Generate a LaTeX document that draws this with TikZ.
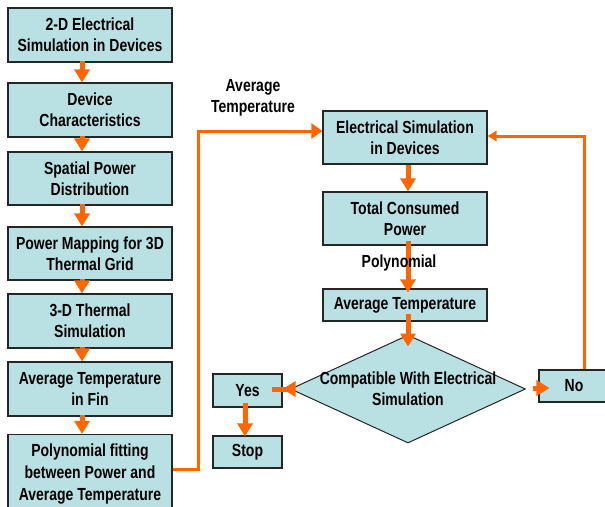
\documentclass[tikz,border=0pt]{standalone}
\usepackage{fontspec}
\newfontfamily\narrowfont{Liberation Sans}[FakeStretch=0.8]
\usetikzlibrary{arrows.meta,shapes.geometric}
\definecolor{boxfill}{RGB}{185,224,227}
\definecolor{flow}{RGB}{255,102,0}
\begin{document}
\begin{tikzpicture}[x=1pt,y=-1pt,
  every node/.style={font=\narrowfont\bfseries\fontsize{17.5}{21}\selectfont, align=center, text=black},
  proc/.style={draw=black!85, line width=1.2pt, fill=boxfill, inner sep=0pt, minimum width=164pt},
  smallbox/.style={draw=black!85, line width=1.2pt, fill=boxfill, inner sep=0pt, minimum width=69pt, minimum height=33pt},
  decision/.style={diamond, draw=black!85, line width=1pt, fill=boxfill, inner sep=0pt, minimum width=235pt, minimum height=108pt},
  plain/.style={inner sep=0pt},
  flowarrow/.style={draw=flow, line width=5pt, -{Triangle[length=13pt,width=15pt]}},
  loopline/.style={draw=flow, line width=3pt, line join=miter},
]
\useasboundingbox (0,0) rectangle (605,506);
% left column
\node[proc, minimum height=54pt] (b1) at (90,35) {2-D Electrical\\Simulation in Devices};
\node[proc, minimum height=54pt] (b2) at (90,110) {Device\\Characteristics};
\node[proc, minimum height=53pt] (b3) at (90,178.5) {Spatial Power\\Distribution};
\node[proc, minimum height=53pt] (b4) at (90,253.5) {Power Mapping for 3D\\Thermal Grid};
\node[proc, minimum height=54pt] (b5) at (90,321) {3-D Thermal\\Simulation};
\node[proc, minimum height=54pt] (b6) at (90,389) {Average Temperature\\in Fin};
\node[proc, minimum height=80pt, font=\narrowfont\bfseries\fontsize{17.5}{22}\selectfont] (b7) at (90,474.5) {Polynomial fitting\\between Power and\\Average Temperature};
% right column
\node[proc, minimum height=53pt] (es) at (405,137.5) {Electrical Simulation\\in Devices};
\node[proc, minimum height=53pt] (tcp) at (405,218.5) {Total Consumed\\Power};
\node[proc, minimum height=32pt] (at) at (405,305) {Average Temperature};
\node[decision, label={[plain, align=center]center:Compatible With Electrical\\Simulation}] (dia) at (408,389) {};
\node[smallbox] (yes) at (247.5,390.5) {Yes};
\node[smallbox, minimum height=32pt] (stop) at (247.5,452) {Stop};
\node[draw=black!85, line width=1.2pt, fill=boxfill, inner sep=0pt, minimum width=70pt, minimum height=32pt] (no) at (574,386) {No};
% labels
\node[plain] (lblavg) at (253,98) {Average\\Temperature};
% helper coordinates for arrow positions
\coordinate (lx) at (82,0);
\coordinate (rx) at (408,0);
\coordinate (sx) at (245,0);
\coordinate (ly) at (0,389);
\coordinate (ny) at (0,388);
% left column arrows
\foreach \a/\b in {b1/b2,b2/b3,b3/b4,b4/b5,b5/b6,b6/b7}
  \draw[flowarrow, shorten <=-2pt] (\a.south -| lx) -- (\b.north -| lx);
% right column arrows
\draw[flowarrow] (es.south -| rx) -- (tcp.north -| rx);
\draw[flowarrow, shorten <=-5pt, shorten >=-4pt] (tcp.south -| rx) -- (at.north -| rx);
\node[plain] (lblpoly) at (399,263) {Polynomial};
\draw[flowarrow, shorten <=-8pt, shorten >=-12pt] (at.south -| rx) -- (dia.north);
\draw[flowarrow, shorten <=-18pt] (dia.west) -- (yes.east |- ly);
\draw[flowarrow, shorten <=7pt, shorten >=-11pt] (dia.east |- ny) -- (no.west |- ny);
\draw[flowarrow, shorten <=-5pt, shorten >=-1pt] (yes.south -| sx) -- (stop.north -| sx);
% left loop
\coordinate (l1) at (198,469);
\coordinate (l2) at (198,131);
\draw[loopline, -{Triangle[length=11pt,width=15pt]}] (b7.east |- l1) -- (l1) -- (l2) -- (es.west |- l2);
% right loop
\coordinate (r1) at (584,136);
\draw[loopline, -{Triangle[length=9pt,width=10pt]}] (no.north -| r1) -- (r1) -- (es.east |- r1);
\end{tikzpicture}
\end{document}
